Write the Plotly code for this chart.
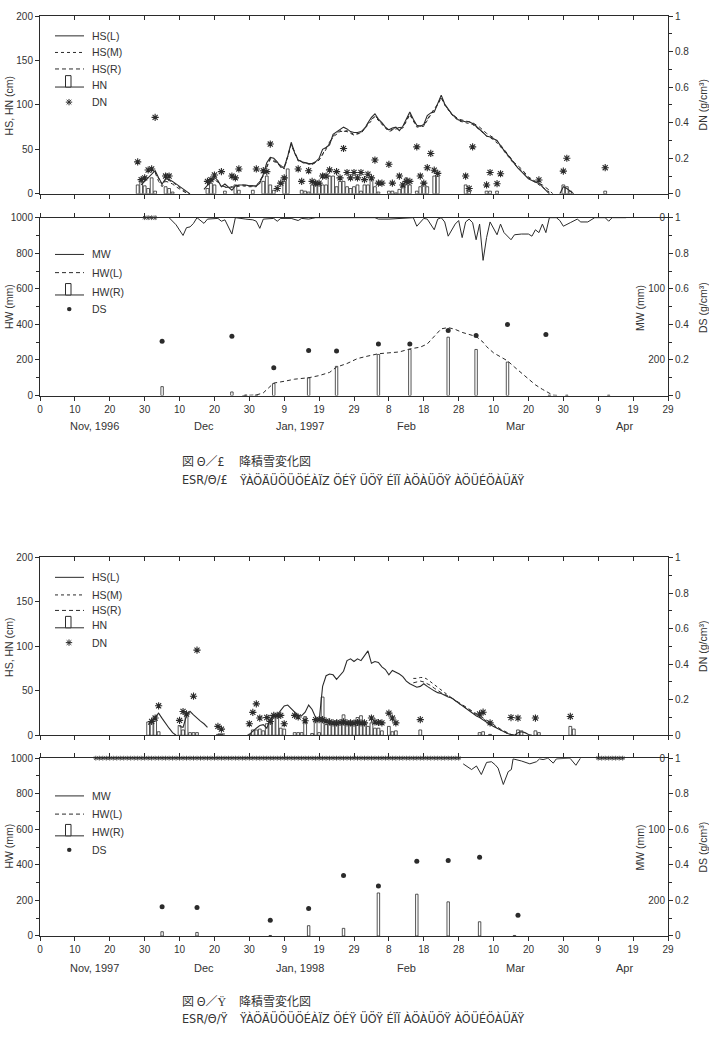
import plotly.graph_objects as go

# ---------------- axis labels ----------------
X_TICKVALS = [0, 10, 20, 30, 40, 50, 60, 70, 80, 90, 100, 110, 120, 130, 140, 150, 160, 170, 180]
X_TICKTEXT = ['0', '10', '20', '30', '10', '20', '30', '9', '19', '29', '8', '18', '28',
              '10', '20', '30', '9', '19', '29']
MONTHS_97 = ['Nov, 1996', 'Dec', 'Jan, 1997', 'Feb', 'Mar', 'Apr']
MONTHS_98 = ['Nov, 1997', 'Dec', 'Jan, 1998', 'Feb', 'Mar', 'Apr']

# ---------------- 1996-97 season (day counted from Oct 31) ----------------
HS97_L_SEG1 = [(29, 10), (30, 14), (31, 18), (32, 22), (33, 26), (34, 18), (35, 11), (36, 17), (37, 16),
               (38, 14), (39, 11), (40, 8), (41, 5), (42, 2), (43, 0)]
HS97_L_SEG2 = [(47, 5), (48, 10), (49, 15), (50, 19), (51, 15), (52, 8), (53, 11), (54, 8), (55, 4), (56, 9),
               (57, 10), (58, 10), (59, 10), (60, 9), (61, 9), (62, 9), (63, 12), (64, 22), (65, 35), (66, 41),
               (67, 40), (68, 36), (69, 30), (70, 30), (71, 42), (72, 58), (73, 46), (74, 38), (75, 36), (76, 35),
               (77, 34), (78, 34), (79, 36), (80, 40), (81, 50), (82, 52), (83, 55), (84, 67), (85, 70), (86, 72),
               (87, 75), (88, 73), (89, 70), (90, 69), (91, 69), (92, 70), (93, 73), (94, 80), (95, 86), (96, 90),
               (97, 84), (98, 80), (99, 75), (100, 72), (101, 74), (102, 75), (103, 71), (104, 76), (105, 85),
               (106, 92), (107, 84), (108, 77), (109, 76), (110, 78), (111, 88), (112, 91), (113, 92), (114, 102),
               (115, 111), (116, 101), (117, 95), (118, 90), (119, 86), (120, 83), (121, 82), (122, 81), (123, 81),
               (124, 79), (125, 76), (126, 73), (127, 69), (128, 65), (129, 64), (130, 62), (131, 60), (132, 54),
               (133, 49), (134, 44), (135, 39), (136, 33), (137, 29), (138, 25), (139, 21), (140, 17), (141, 15),
               (142, 13), (143, 12), (144, 8), (145, 3), (146, 0)]
HS97_L_SEG3 = [(149, 0), (150, 8), (151, 6), (152, 3), (153, 0)]

HS97_M_SEG1 = [(33, 25), (34, 17), (35, 10), (36, 16), (37, 15), (38, 13), (39, 10), (40, 7), (41, 4), (42, 1.5), (43, 0)]
HS97_M_SEG2 = [(48, 9), (50, 17), (52, 8), (54, 7), (56, 8), (58, 9), (60, 8), (62, 8), (64, 20), (66, 39),
               (68, 34), (70, 28), (72, 55), (74, 37), (76, 34), (78, 33), (80, 38), (82, 50), (84, 64), (86, 70),
               (88, 71), (90, 67), (92, 68), (94, 78), (96, 87), (98, 78), (100, 70), (102, 73), (104, 74),
               (106, 89), (108, 75), (110, 76), (112, 89), (114, 100), (115, 108), (116, 100), (118, 89),
               (120, 82), (122, 80), (124, 78), (126, 72), (128, 65), (130, 61), (132, 53), (134, 43), (136, 33),
               (138, 26), (140, 18), (142, 13), (144, 8), (146, 2)]
HS97_R_SEG1 = [(33, 24), (34, 14), (35, 8), (36, 14), (37, 13), (38, 11), (39, 8), (40, 5), (41, 3), (42, 1), (43, 0)]
HS97_R_SEG2 = [(48, 10), (50, 18), (52, 9), (54, 7), (56, 9), (58, 10), (60, 9), (62, 9), (64, 21), (66, 40),
               (68, 35), (70, 29), (72, 56), (74, 38), (76, 35), (78, 33), (80, 38), (82, 51), (84, 65), (86, 71),
               (88, 70), (90, 66), (92, 69), (94, 79), (96, 88), (98, 79), (100, 71), (102, 74), (104, 75),
               (106, 90), (108, 76), (110, 77), (112, 90), (114, 101), (115, 109), (116, 100), (118, 90),
               (120, 84), (122, 82), (124, 80), (126, 75), (128, 68), (130, 63), (132, 55), (134, 45), (136, 35),
               (138, 28), (140, 19), (142, 14), (144, 10), (146, 4), (147, 0)]

HN97 = [(28, 10), (29, 14), (30, 9), (31, 6), (32, 18), (33, 3), (36, 8), (37, 6), (38, 2),
        (48, 6), (49, 12), (50, 10), (53, 3), (56, 10), (57, 4), (61, 4), (64, 14), (65, 20), (66, 10), (67, 4),
        (70, 14), (71, 28), (75, 4), (76, 3), (77, 2), (78, 10), (79, 10), (80, 12), (81, 10), (82, 10),
        (83, 20), (84, 20), (85, 8), (86, 14), (87, 14), (88, 8), (89, 6), (90, 8), (91, 10), (92, 3),
        (93, 10), (94, 10), (95, 16), (96, 8), (97, 2), (100, 3), (101, 3), (102, 1), (103, 5), (104, 8),
        (105, 18), (106, 10), (108, 3), (109, 8), (110, 13), (111, 8), (113, 20), (114, 20),
        (122, 10), (123, 3), (128, 3), (129, 3), (131, 3), (150, 10), (151, 8), (152, 3), (162, 3)]

DN97 = [(28, 0.18), (29, 0.08), (30, 0.09), (31, 0.134), (32, 0.14), (33, 0.43), (36, 0.10), (37, 0.10),
        (48, 0.07), (49, 0.08), (50, 0.106), (52, 0.125), (55, 0.10), (56, 0.09), (57, 0.14), (62, 0.14),
        (64, 0.13), (65, 0.125), (66, 0.28), (68, 0.03), (69, 0.06), (70, 0.09), (74, 0.14), (75, 0.07),
        (77, 0.13), (78, 0.07), (79, 0.06), (80, 0.06), (81, 0.10), (82, 0.10), (83, 0.135), (85, 0.125),
        (86, 0.09), (87, 0.255), (88, 0.12), (89, 0.09), (90, 0.12), (91, 0.09), (92, 0.12), (93, 0.08),
        (94, 0.11), (95, 0.09), (96, 0.19), (97, 0.06), (98, 0.06), (100, 0.166), (101, 0.06), (103, 0.10),
        (104, 0.05), (105, 0.07), (106, 0.07), (108, 0.264), (109, 0.10), (110, 0.06), (111, 0.147),
        (112, 0.227), (113, 0.133), (114, 0.115), (122, 0.10), (123, 0.03), (124, 0.264), (128, 0.05),
        (129, 0.12), (131, 0.057), (132, 0.113), (143, 0.078), (150, 0.128), (151, 0.20), (162, 0.147)]

HW97_L = [(58, 0), (62, 3), (64, 15), (66, 55), (67, 70), (70, 80), (73, 92), (77, 100), (80, 112), (83, 130),
          (85, 160), (88, 180), (91, 208), (94, 222), (97, 235), (100, 240), (103, 245), (106, 262), (109, 272),
          (111, 290), (113, 330), (115, 375), (117, 382), (119, 372), (121, 355), (123, 342), (125, 332),
          (127, 300), (128, 275), (130, 240), (132, 215), (134, 195), (136, 160), (138, 125), (140, 90),
          (142, 60), (144, 35), (146, 10), (147, 2), (149, 0)]
HW97_R = [(35, 50), (55, 20), (59, 3), (62, 3), (67, 67), (77, 100), (85, 164), (97, 231), (106, 259),
          (117, 328), (125, 259), (134, 188), (146, 2), (151, 2), (163, 2)]
DS97 = [(35, 0.305), (55, 0.333), (67, 0.156), (77, 0.253), (85, 0.25), (97, 0.29), (106, 0.29),
        (117, 0.365), (125, 0.337), (134, 0.40), (145, 0.343)]
MW97 = [(37, 0), (39, 10), (41, 25), (42, 14), (43, 13), (44, 8), (45, 0), (47, 8), (48, 2), (50, 2), (51, 1),
        (52, 5), (53, 3), (55, 23), (56, 0), (59, 2), (61, 3), (62, 5), (63, 15), (64, 2), (67, 1), (68, 5),
        (69, 1), (72, 1), (74, 4), (75, 1), (77, 2), (78, 1), (79, 0), (96, 0), (97, 2), (100, 2), (103, 1),
        (107, 0), (108, 12), (110, 1), (111, 2), (113, 17), (114, 2), (115, 0), (116, 6), (117, 26), (119, 9),
        (120, 4), (121, 28), (122, 6), (123, 2), (124, 7), (125, 31), (126, 9), (127, 60), (128, 28), (129, 6),
        (131, 24), (132, 9), (133, 21), (135, 31), (136, 24), (138, 23), (140, 23), (141, 26), (142, 17),
        (143, 21), (144, 9), (145, 21), (146, 0), (148, 0), (149, 4), (150, 12), (151, 10), (152, 7),
        (154, 2), (155, 6), (157, 6), (158, 3), (159, 0), (162, 0), (163, 5), (164, 0), (168, 0)]
MW97_ZERO_DAYS = [30, 31, 32, 33]

# ---------------- 1997-98 season ----------------
HS98_L_SEG1 = [(31, 12), (32, 16), (33, 20), (34, 25), (35, 19), (36, 13), (37, 8), (38, 3), (39, 0)]
HS98_L_SEG2 = [(40, 10), (41, 9), (42, 22), (43, 27), (44, 23), (45, 19), (46, 16), (47, 13), (48, 9)]
HS98_L_SEG3 = [(51, 1.5), (52, 1.5), (53, 1.5)]
HS98_L_SEG4 = [(60, 1), (61, 5), (62, 8), (63, 11), (64, 12), (65, 8), (66, 18), (67, 21), (68, 23), (69, 28),
               (70, 33), (71, 34), (72, 30), (73, 25), (74, 22), (75, 22), (76, 26), (77, 34), (78, 29), (79, 20),
               (80, 16), (81, 55), (82, 67), (83, 69), (84, 68), (85, 63), (86, 67), (87, 72), (88, 84), (89, 86),
               (90, 83), (91, 86), (92, 84), (93, 90), (94, 95), (95, 81), (96, 83), (97, 82), (98, 77), (99, 74),
               (100, 68), (101, 73), (102, 71), (103, 69), (104, 66), (105, 61), (106, 58), (107, 56), (108, 54),
               (109, 55), (110, 58), (111, 55), (112, 52), (113, 50), (114, 48), (115, 47), (116, 45), (117, 43),
               (118, 42), (119, 39), (120, 36), (121, 33), (122, 30), (123, 27), (124, 25), (125, 22), (126, 20),
               (127, 17), (128, 15), (129, 12), (130, 10), (131, 8), (132, 6), (133, 4), (134, 2), (135, 1),
               (136, 0), (137, 3), (138, 4), (139, 3), (140, 1), (141, 0)]
HS98_M = [(107, 64), (108, 64), (109, 65), (110, 65), (111, 63), (112, 60), (113, 56), (114, 53), (115, 50),
          (116, 47), (117, 44), (118, 42), (120, 36), (122, 31), (124, 26), (126, 21), (128, 16), (130, 11),
          (132, 6), (134, 2), (135, 0)]
HS98_R = [(107, 59), (108, 60), (109, 61), (110, 60), (111, 58), (112, 56), (113, 53), (114, 50), (115, 48),
          (116, 46), (117, 44), (118, 42), (120, 37), (122, 32), (124, 27), (126, 22), (128, 17), (130, 12),
          (132, 7), (134, 3), (135, 1), (136, 0)]

HN98 = [(31, 15), (32, 17), (33, 19), (34, 4), (40, 11), (41, 6), (42, 25), (43, 3), (44, 3), (45, 3),
        (51, 1), (52, 1), (60, 1), (61, 6), (62, 6), (63, 7), (64, 5), (65, 13), (66, 22), (67, 22), (68, 22),
        (69, 8), (70, 7), (73, 3), (74, 3), (75, 3), (76, 21), (78, 2), (79, 17), (80, 3), (81, 43), (82, 12),
        (83, 12), (84, 13), (85, 14), (86, 13), (87, 23), (88, 14), (89, 12), (90, 16), (91, 20), (92, 22),
        (93, 14), (94, 10), (95, 14), (96, 8), (97, 8), (98, 5), (100, 10), (101, 4), (102, 5), (109, 6),
        (126, 3), (127, 4), (129, 1), (137, 6), (138, 5), (142, 5), (143, 3), (152, 10), (153, 7)]

DN98 = [(32, 0.078), (33, 0.097), (34, 0.166), (40, 0.084), (41, 0.134), (42, 0.12), (44, 0.22), (45, 0.479),
        (51, 0.05), (52, 0.035), (60, 0.065), (61, 0.129), (62, 0.177), (63, 0.097), (65, 0.10), (66, 0.078),
        (67, 0.112), (68, 0.112), (69, 0.112), (70, 0.065), (73, 0.112), (74, 0.103), (76, 0.082), (79, 0.088),
        (80, 0.088), (81, 0.088), (82, 0.08), (83, 0.075), (84, 0.07), (85, 0.07), (86, 0.072), (87, 0.075),
        (88, 0.07), (89, 0.07), (90, 0.068), (91, 0.072), (92, 0.07), (93, 0.07), (95, 0.097), (96, 0.075),
        (97, 0.072), (98, 0.07), (100, 0.125), (101, 0.097), (102, 0.07), (109, 0.088), (126, 0.12),
        (127, 0.13), (129, 0.07), (135, 0.10), (137, 0.097), (142, 0.097), (152, 0.106)]

HW98_R = [(35, 24), (45, 20), (66, 3), (77, 58), (87, 43), (97, 242), (108, 235), (117, 192), (126, 80), (136, 3)]
DS98 = [(35, 0.164), (45, 0.16), (66, 0.089), (77, 0.155), (87, 0.34), (97, 0.281), (108, 0.42),
        (117, 0.425), (126, 0.443), (137, 0.117)]
MW98 = [(121.3, 8), (123.7, 16), (125.1, 11), (126.5, 23), (128.0, 6), (129.4, 5), (130.4, 9), (131.3, 14),
        (132.8, 37), (134.2, 19), (135.1, 16), (135.6, 1), (138.0, 4), (140.4, 8), (142.3, 5), (143.2, 1),
        (144.2, 2), (145.6, 0), (147.1, 7), (148.0, 1), (151.9, 0), (153.6, 10), (154.9, 0)]
MW98_ZERO_DAYS = [16, 17, 18, 19, 20, 21, 22, 23, 24, 25, 26, 27, 28, 29, 30, 31, 32, 33, 34, 35, 36, 37, 38,
                  39, 40, 41, 42, 43, 44, 45, 46, 47, 48, 49, 50, 51, 52, 53, 54, 55, 56, 57, 58, 59, 60, 61,
                  62, 63, 64, 65, 66, 67, 68, 69, 70, 71, 72, 73, 74, 75, 76, 77, 78, 79, 80, 81, 82, 83, 84,
                  85, 86, 87, 88, 89, 90, 91, 92, 93, 94, 95, 96, 97, 98, 99, 100, 101, 102, 103, 104, 105,
                  106, 107, 108, 109, 110, 111, 112, 113, 114, 115, 116, 117, 118, 119, 120,
                  160, 161, 162, 163, 164, 165, 166, 167]


# ---------------- helpers ----------------
def xy(*segs):
    xs, ys = [], []
    for i, s in enumerate(segs):
        if i:
            xs.append(None)
            ys.append(None)
        for d, v in s:
            xs.append(d)
            ys.append(v)
    return xs, ys


INK = '#2b2b2b'
FONT = 'Liberation Sans, Arial, sans-serif'
W, H = 709, 1039
ML, MR, MT, MB = 40, 41, 10, 103
PW, PH = W - ML - MR, H - MT - MB


def PX(px):
    return (px - ML) / PW


def PY(py):
    return (H - MB - py) / PH


fig = go.Figure()


def line(seg_list, xa, ya, dash='solid', width=1.1):
    xs, ys = xy(*seg_list)
    fig.add_trace(go.Scatter(x=xs, y=ys, mode='lines', xaxis=xa, yaxis=ya,
                             line=dict(color=INK, width=width, dash=dash), connectgaps=False,
                             hoverinfo='skip'))


def bars(data, xa, ya, width):
    xs, ys = xy(data)
    fig.add_trace(go.Bar(x=xs, y=ys, xaxis=xa, yaxis=ya, width=width,
                         marker=dict(color='white', line=dict(color=INK, width=0.8)), hoverinfo='skip'))


def stars(data, xa, ya, size=6):
    xs, ys = xy(data)
    fig.add_trace(go.Scatter(x=xs, y=ys, mode='markers', xaxis=xa, yaxis=ya, cliponaxis=False,
                             marker=dict(symbol='asterisk-open', size=size, color=INK,
                                         line=dict(color=INK, width=1.1)), hoverinfo='skip'))


def dots(data, xa, ya):
    xs, ys = xy(data)
    fig.add_trace(go.Scatter(x=xs, y=ys, mode='markers', xaxis=xa, yaxis=ya,
                             marker=dict(symbol='circle', size=5, color=INK), hoverinfo='skip'))


def zero_marks(days, xa, ya):
    fig.add_trace(go.Scatter(x=days, y=[0] * len(days), mode='markers', xaxis=xa, yaxis=ya,
                             cliponaxis=False,
                             marker=dict(symbol='asterisk-open', size=4, color=INK,
                                         line=dict(color=INK, width=0.8)), hoverinfo='skip'))


DASH = '4px,3px'

# panel 1 : 1996-97 snow depth
bars(HN97, 'x', 'y', 0.8)
line([HS97_L_SEG1, HS97_L_SEG2, HS97_L_SEG3], 'x', 'y')
line([HS97_M_SEG1, HS97_M_SEG2], 'x', 'y', dash='dot', width=1)
line([HS97_R_SEG1, HS97_R_SEG2], 'x', 'y', dash=DASH, width=1)
stars(DN97, 'x', 'y2')
fig.add_trace(go.Scatter(x=[None], y=[None], xaxis='x5', yaxis='y', hoverinfo='skip'))

# panel 2 : 1996-97 water equivalent
bars(HW97_R, 'x2', 'y3', 0.7)
line([HW97_L], 'x2', 'y3', dash=DASH, width=1)
dots(DS97, 'x2', 'y4')
line([MW97], 'x2', 'y5', width=1)
zero_marks(MW97_ZERO_DAYS, 'x2', 'y5')

# panel 3 : 1997-98 snow depth
bars(HN98, 'x3', 'y6', 0.8)
line([HS98_L_SEG1, HS98_L_SEG2, HS98_L_SEG3, HS98_L_SEG4], 'x3', 'y6')
line([HS98_M], 'x3', 'y6', dash='dot', width=1)
line([HS98_R], 'x3', 'y6', dash=DASH, width=1)
stars(DN98, 'x3', 'y7')
fig.add_trace(go.Scatter(x=[None], y=[None], xaxis='x6', yaxis='y6', hoverinfo='skip'))

# panel 4 : 1997-98 water equivalent
bars(HW98_R, 'x4', 'y8', 0.7)
dots(DS98, 'x4', 'y9')
line([MW98], 'x4', 'y10', width=1)
zero_marks(MW98_ZERO_DAYS, 'x4', 'y10')

# ---------------- axes ----------------
D1 = [PY(189), 1.0]
D2 = [PY(392), PY(213)]
D3 = [PY(734), PY(555)]
D4 = [0.0, PY(757)]

tickfont = dict(family=FONT, size=10, color='#333')
base = dict(showgrid=False, zeroline=False, showline=True, linecolor=INK, linewidth=1,
            tickcolor=INK, tickfont=tickfont, ticks='outside', ticklen=4, tickwidth=1,
            ticklabeloverflow='allow')
xbase = dict(base, range=[0, 180], tickmode='array', tickvals=X_TICKVALS, ticktext=X_TICKTEXT,
             domain=[0, 1])
minor_ds = dict(dtick=0.1, ticks='outside', ticklen=3, tickcolor=INK, showgrid=False)
minor_hw = dict(dtick=100, ticks='outside', ticklen=3, tickcolor=INK, showgrid=False)


def right01(over, anchor):
    return dict(base, overlaying=over, side='right', anchor=anchor, range=[0, 1], dtick=0.2,
                tick0=0, minor=minor_ds)


def mwaxis(over, anchor):
    return dict(showgrid=False, zeroline=False, showline=False, overlaying=over, side='right',
                anchor=anchor, range=[250, 0], tickmode='array', tickvals=[0, 100, 200],
                ticks='', ticklabelposition='inside', ticklabeloverflow='allow', tickfont=tickfont)


fig.update_layout(
    xaxis=dict(xbase, anchor='y', showticklabels=False),
    xaxis2=dict(xbase, anchor='y3', mirror='ticks'),
    xaxis3=dict(xbase, anchor='y6', showticklabels=False),
    xaxis4=dict(xbase, anchor='y8', mirror='ticks'),
    xaxis5=dict(xbase, overlaying='x', side='top', anchor='y', ticks='inside', showticklabels=False),
    xaxis6=dict(xbase, overlaying='x3', side='top', anchor='y6', ticks='inside', showticklabels=False),
    yaxis=dict(base, domain=D1, anchor='x', range=[0, 200], tickmode='array',
               tickvals=[0, 50, 100, 150, 200]),
    yaxis2=right01('y', 'x'),
    yaxis3=dict(base, domain=D2, anchor='x2', range=[0, 1000], dtick=200, tick0=0, minor=minor_hw),
    yaxis4=right01('y3', 'x2'),
    yaxis5=mwaxis('y3', 'x2'),
    yaxis6=dict(base, domain=D3, anchor='x3', range=[0, 200], tickmode='array',
                tickvals=[0, 50, 100, 150, 200]),
    yaxis7=right01('y6', 'x3'),
    yaxis8=dict(base, domain=D4, anchor='x4', range=[0, 1000], dtick=200, tick0=0, minor=minor_hw),
    yaxis9=right01('y8', 'x4'),
    yaxis10=mwaxis('y8', 'x4'),
)

# ---------------- annotations / legend decorations ----------------
ann = []
shapes = []
tfont = dict(family=FONT, size=10.5, color='#333')
mfont = dict(family=FONT, size=11, color='#333')


def text(s, px, py, angle=0, xanchor='center', font=None):
    ann.append(dict(text=s, x=PX(px), y=PY(py), xref='paper', yref='paper', showarrow=False,
                    textangle=angle, xanchor=xanchor, yanchor='middle', font=font or tfont))


def hline(px0, px1, py, dash='solid'):
    shapes.append(dict(type='line', xref='paper', yref='paper', x0=PX(px0), x1=PX(px1), y0=PY(py), y1=PY(py),
                       line=dict(color=INK, width=1, dash=dash)))


def bar_sym(py_base):
    hline(55, 84, py_base)
    shapes.append(dict(type='rect', xref='paper', yref='paper', x0=PX(65.5), x1=PX(71), y0=PY(py_base),
                       y1=PY(py_base - 11.5), line=dict(color=INK, width=1), fillcolor='white'))


def star_sym(py):
    cx = 69
    for dx, dy in [(0, 3.2), (3.2, 0), (2.3, 2.3), (2.3, -2.3)]:
        shapes.append(dict(type='line', xref='paper', yref='paper', x0=PX(cx - dx), x1=PX(cx + dx),
                           y0=PY(py - dy), y1=PY(py + dy), line=dict(color=INK, width=1)))


def dot_sym(py):
    shapes.append(dict(type='circle', xref='paper', yref='paper', x0=PX(67), x1=PX(71.5), y0=PY(py + 2.2),
                       y1=PY(py - 2.2), line=dict(color=INK, width=0), fillcolor=INK))


def hs_legend(rows):
    y1, y2, y3, y4, y5 = rows
    hline(55, 84, y1)
    text('HS(L)', 90, y1, xanchor='left')
    hline(55, 84, y2, 'dot')
    text('HS(M)', 90, y2, xanchor='left')
    hline(55, 84, y3, DASH)
    text('HS(R)', 90, y3, xanchor='left')
    bar_sym(y4 + 2.5)
    text('HN', 90, y4, xanchor='left')
    star_sym(y5)
    text('DN', 90, y5, xanchor='left')


def hw_legend(rows):
    y1, y2, y3, y4 = rows
    hline(55, 84, y1)
    text('MW', 90, y1, xanchor='left')
    hline(55, 84, y2, DASH)
    text('HW(L)', 90, y2, xanchor='left')
    bar_sym(y3 + 3.5)
    text('HW(R)', 90, y3, xanchor='left')
    dot_sym(y4)
    text('DS', 90, y4, xanchor='left')


hs_legend([30, 46.7, 63.3, 79, 96.7])
hw_legend([250, 268.3, 287.3, 305])
hs_legend([575, 592.7, 608.3, 623.3, 640.7])
hw_legend([795, 813.3, 831.7, 849.3])

# axis titles
for cy_hs, cy_hw in [(100, 302), (645, 845)]:
    text('HS, HN (cm)', 9, cy_hs, angle=-90)
    text('DN (g/cm³)', 703, cy_hs, angle=-90)
    text('HW (mm)', 9, cy_hw, angle=-90)
    text('MW (mm)', 640, cy_hw + 2, angle=-90)
    text('DS (g/cm³)', 703, cy_hw + 2, angle=-90)

# month labels
MONTH_DAY = [15.5, 47, 74.5, 105, 136.4, 167.6]
for labels, xa, py in [(MONTHS_97, 'x2', 423), (MONTHS_98, 'x4', 968)]:
    for lab, d in zip(labels, MONTH_DAY):
        ann.append(dict(text=lab, x=d, y=PY(py), xref=xa, yref='paper', showarrow=False,
                        xanchor='center', yanchor='middle', font=mfont))

# captions
cjk = dict(family='Noto Sans CJK JP, Noto Sans CJK SC', size=12, color='#333')
narrow = dict(family='Liberation Sans Narrow, DejaVu Sans Condensed, Liberation Sans', size=12.5, color='#333')
GARBLE = 'ŸÀÖÄÜÖÜÖÉÀÏZ ÖÉŸ ÜÖŸ ÉÏÏ ÀÖÀÜÖŸ ÀÖÜÉÖÀÜÄŸ'
for num, y1, y2 in [('£', 457, 477), ('Ÿ', 1001, 1019)]:
    text('図 Θ∕' + num, 180, y1, xanchor='left', font=cjk)
    text('降積雪変化図', 237, y1, xanchor='left', font=cjk)
    text('ESR∕Θ∕' + num, 180, y2, xanchor='left', font=narrow)
    text(GARBLE, 237, y2, xanchor='left', font=narrow)

fig.update_layout(
    width=W, height=H, margin=dict(l=ML, r=MR, t=MT, b=MB),
    paper_bgcolor='white', plot_bgcolor='white', showlegend=False, barmode='overlay',
    font=dict(family=FONT, size=10, color='#333'),
    annotations=ann, shapes=shapes,
)

fig.write_html('out.html')
